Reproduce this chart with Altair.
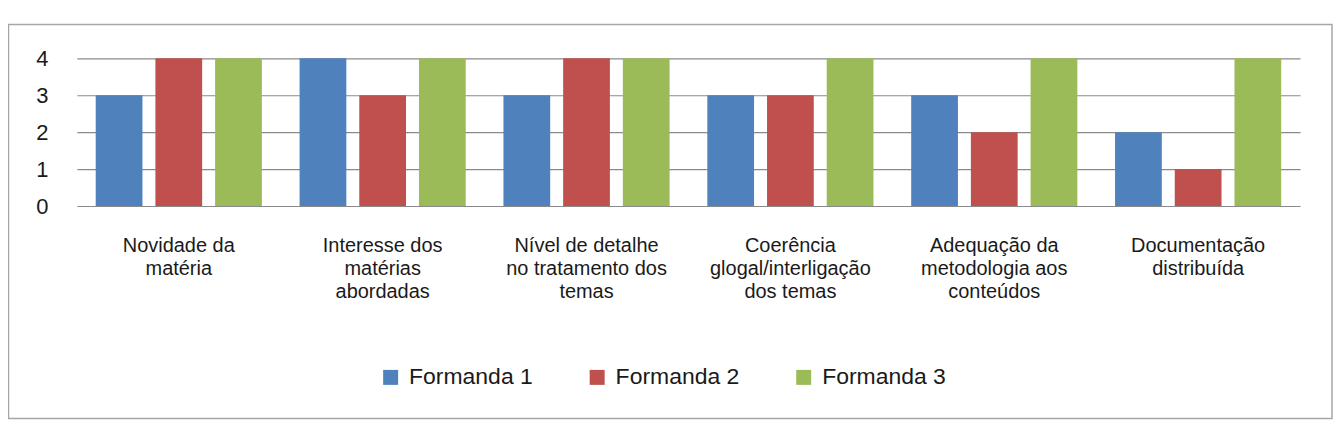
import altair as alt
import pandas as pd

categories = [
    "Novidade da|matéria",
    "Interesse dos|matérias|abordadas",
    "Nível de detalhe|no tratamento dos|temas",
    "Coerência|glogal/interligação|dos temas",
    "Adequação da|metodologia aos|conteúdos",
    "Documentação|distribuída",
]
series = ["Formanda 1", "Formanda 2", "Formanda 3"]
formanda1 = [3, 4, 3, 3, 3, 2]
formanda2 = [4, 3, 4, 3, 2, 1]
formanda3 = [4, 4, 4, 4, 4, 4]
colors = ["#4F81BD", "#C0504D", "#9BBB59"]

rows = []
for name, vals in zip(series, [formanda1, formanda2, formanda3]):
    for c, v in zip(categories, vals):
        rows.append({"categoria": c, "serie": name, "valor": v})
df = pd.DataFrame(rows)

FONT = "Liberation Sans"

bars = alt.Chart(df).mark_bar().encode(
    x=alt.X(
        "categoria:N",
        sort=categories,
        title=None,
        scale=alt.Scale(paddingInner=0.185, paddingOuter=0.0925),
        axis=alt.Axis(
            labelExpr="split(datum.label, '|')",
            labelAngle=0,
            labelFont=FONT,
            labelFontSize=20,
            labelColor="#1a1a1a",
            labelLineHeight=23,
            labelBaseline="top",
            labelPadding=30,
            labelLimit=400,
            ticks=False,
            domain=False,
            grid=False,
        ),
    ),
    xOffset=alt.XOffset(
        "serie:N",
        sort=series,
        scale=alt.Scale(paddingInner=0.217, paddingOuter=0),
    ),
    y=alt.Y(
        "valor:Q",
        title=None,
        scale=alt.Scale(domain=[0, 4], nice=False),
        axis=alt.Axis(
            values=[0, 1, 2, 3, 4],
            format="d",
            labelFont=FONT,
            labelFontSize=22,
            labelColor="#1a1a1a",
            labelPadding=29,
            ticks=False,
            domain=False,
            grid=True,
            gridColor="#8a8a8a",
            gridWidth=1.2,
        ),
    ),
    color=alt.Color(
        "serie:N",
        sort=series,
        scale=alt.Scale(domain=series, range=colors),
        legend=alt.Legend(
            title=None,
            orient="none",
            direction="horizontal",
            legendX=303,
            legendY=308,
            symbolType="square",
            symbolSize=225,
            symbolStrokeWidth=0,
            labelFont=FONT,
            labelFontSize=23,
            labelColor="#1a1a1a",
            labelOffset=7,
            columnPadding=52,
        ),
    ),
)

border = alt.Chart(alt.Data(values=[{}])).mark_rect(
    fill=None, stroke="#a6a6a6", strokeWidth=1.5, clip=False
).encode(
    x=alt.value(-68.5),
    x2=alt.value(1258),
    y=alt.value(-34),
    y2=alt.value(361),
)

chart = alt.layer(border, bars).properties(
    width=1226,
    height=148,
    autosize=alt.AutoSizeParams(type="none"),
    padding={"left": 69, "top": 50, "right": 33, "bottom": 214},
).configure_view(stroke=None)

chart.save("out.html", embed_options={"renderer": "svg", "actions": False})
